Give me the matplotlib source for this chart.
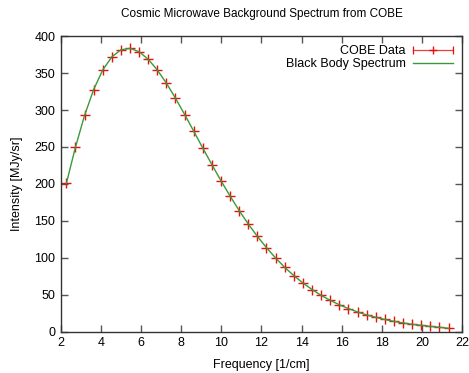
import matplotlib
matplotlib.use("Agg")
import matplotlib.pyplot as plt
from matplotlib.lines import Line2D
from matplotlib.legend_handler import HandlerBase

# COBE FIRAS data, frequency in 1/cm, intensity in MJy/sr
freq = [2.27, 2.72, 3.18, 3.63, 4.08, 4.54, 4.99, 5.45, 5.90, 6.35, 6.81,
        7.26, 7.71, 8.17, 8.62, 9.08, 9.53, 9.98, 10.44, 10.89, 11.34,
        11.80, 12.25, 12.71, 13.16, 13.61, 14.07, 14.52, 14.97, 15.43,
        15.88, 16.34, 16.79, 17.24, 17.70, 18.15, 18.61, 19.06, 19.51,
        19.97, 20.42, 20.87, 21.33]
intensity = [200.7, 249.5, 293.0, 327.8, 354.1, 372.1, 381.5, 383.5, 378.9,
             368.8, 354.1, 336.3, 316.1, 293.9, 271.4, 248.2, 225.9, 204.3,
             183.3, 163.8, 145.8, 128.8, 113.6, 99.5, 87.0, 75.9, 65.8, 57.0,
             49.2, 42.3, 36.4, 31.1, 26.6, 22.6, 19.3, 16.4, 13.8, 11.7, 9.9,
             8.4, 7.1, 5.8, 4.5]

red = "#e8100c"
green = "#3a9a3a"

plt.rcParams['font.family'] = ['Liberation Sans', 'DejaVu Sans']
plt.rcParams['font.size'] = 9


class ErrHandler(HandlerBase):
    # gnuplot-like errorbar key: horizontal bar with end caps and a + in the middle
    def create_artists(self, legend, orig_handle, xdescent, ydescent,
                       width, height, fontsize, trans):
        y = height / 2 - ydescent
        x0, x1 = -xdescent, -xdescent + width
        bar = Line2D([x0, x1], [y, y], color=red, lw=0.9, alpha=0.8)
        mid = Line2D([(x0 + x1) / 2], [y], marker='+', color=red, ms=6, mew=1)
        caps = Line2D([x0, x1], [y, y], ls='none', marker='|', color=red,
                      ms=6, mew=0.9)
        for a in (bar, mid, caps):
            a.set_transform(trans)
        return [bar, mid, caps]


fig = plt.figure(figsize=(4.69, 3.73), dpi=100)
ax = fig.add_axes([0.130, 0.111, 0.855, 0.792])

pts, = ax.plot(freq, intensity, ls='none', marker='+', ms=6.5, mew=1,
               color=red, label="COBE Data")
curve, = ax.plot(freq, intensity, color=green, lw=1, label="Black Body Spectrum")

ax.set_xlim(2, 22)
ax.set_ylim(0, 400)
ax.set_xticks(range(2, 23, 2))
ax.set_yticks(range(0, 401, 50))
ax.tick_params(direction='in', top=True, right=True, length=5, width=1,
               color='#555555', labelsize=9, pad=4)
for s in ax.spines.values():
    s.set_color('#333333')
    s.set_linewidth(1)

ax.set_title("Cosmic Microwave Background Spectrum from COBE", fontsize=8.5, pad=14)
ax.set_xlabel("Frequency [1/cm]", labelpad=7)
ax.set_ylabel("Intensity [MJy/sr]", labelpad=8)

ax.legend([pts, curve], ["COBE Data", "Black Body Spectrum"],
          handler_map={pts: ErrHandler()}, loc='upper right',
          markerfirst=False, frameon=False, handlelength=3.2,
          handletextpad=0.6, labelspacing=0.1, borderaxespad=0.3)

fig.savefig("out.png", dpi=100)
